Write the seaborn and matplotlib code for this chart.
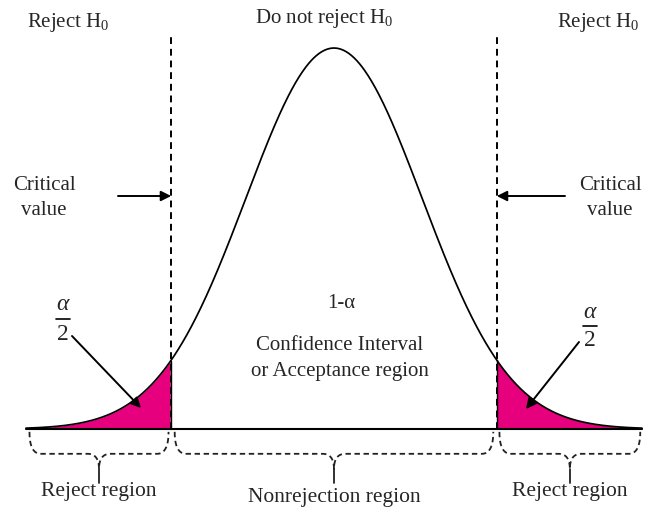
import numpy as np
import pandas as pd
import matplotlib
matplotlib.use("Agg")
import matplotlib.pyplot as plt
import seaborn as sns

# ---- data ----
mu = 0.0
sigma = 1.0
z_limits = [-3.5, 3.5]          # extent of the drawn curve
z_crit = 1.85                   # critical value (two-tailed)
top_labels = ["Reject H$_0$", "Do not reject H$_0$", "Reject H$_0$"]
region_labels = ["Reject region", "Nonrejection region", "Reject region"]
center_labels = ["1-\u03b1", "Confidence Interval", "or Acceptance region"]
crit_label = ["Critical", "value"]

z = np.linspace(z_limits[0], z_limits[1], 701)
pdf = np.exp(-0.5 * ((z - mu) / sigma) ** 2) / (sigma * np.sqrt(2 * np.pi))
df = pd.DataFrame({"z": z, "pdf": pdf})

# ---- style ----
sns.set_theme(style="white")
plt.rcParams["font.family"] = ["Liberation Serif", "DejaVu Serif"]
plt.rcParams["mathtext.fontset"] = "custom"
plt.rcParams["mathtext.rm"] = "Liberation Serif"
plt.rcParams["mathtext.it"] = "Liberation Serif:italic"

W, H = 645, 510
fig = plt.figure(figsize=(W / 100, H / 100), dpi=100)
ax = fig.add_axes([0, 0, 1, 1])
ax.set_xlim(-3.795, 3.534)
ax.set_ylim(-0.0838, 0.4503)
ax.axis("off")

def fx(px):
    return px / W

def fy(py):
    return 1 - py / H

# curve
sns.lineplot(data=df, x="z", y="pdf", ax=ax, color="black", lw=1.25)
ax.plot(z_limits, [0, 0], color="black", lw=1.5)

# tails
pink = "#E6007E"
left = df[df.z <= -z_crit]
right = df[df.z >= z_crit]
ax.fill_between(left.z, 0, left.pdf, color=pink, lw=0)
ax.fill_between(right.z, 0, right.pdf, color=pink, lw=0)
ax.plot([-z_crit, -z_crit], [0, left.pdf.iloc[-1]], color="black", lw=1.0)
ax.plot([z_crit, z_crit], [0, right.pdf.iloc[0]], color="black", lw=1.0)

# critical dashed lines
for c in (-z_crit, z_crit):
    ax.plot([c, c], [0, 0.4145], color="black", lw=1.4, ls=(0, (3.5, 2.5)))

# braces
def bez(p0, p1, p2, n=20):
    t = np.linspace(0, 1, n)[:, None]
    return (1 - t) ** 2 * np.array(p0) + 2 * (1 - t) * t * np.array(p1) + t ** 2 * np.array(p2)

def brace(a, b, y0=-0.003, yh=-0.026, yc=-0.042, ys=-0.057, w=0.13):
    m = (a + b) / 2
    seg1 = bez((a, y0), (a, yh), (a + w, yh))
    seg2 = bez((m - w, yh), (m, yh), (m, yc))
    seg3 = bez((m, yc), (m, yh), (m + w, yh))
    seg4 = bez((b - w, yh), (b, yh), (b, y0))
    pts = np.vstack([seg1, seg2, seg3, seg4])
    ax.plot(pts[:, 0], pts[:, 1], color="#222222", lw=1.3, ls=(0, (3, 2)))
    ax.plot([m, m], [yc, ys], color="#222222", lw=1.3)
    return m

bounds = [(z_limits[0] + 0.04, -z_crit - 0.03),
          (-z_crit + 0.04, z_crit - 0.04),
          (z_crit + 0.03, z_limits[1] - 0.02)]
text_y = [-0.064, -0.071, -0.064]
for (a, b), lab, ty in zip(bounds, region_labels, text_y):
    m = brace(a, b)
    ax.text(m, ty, lab, ha="center", va="center", fontsize=15.5)

# top labels
fs = 15
fig.text(fx(68), fy(22), top_labels[0], ha="center", va="center", fontsize=fs)
fig.text(fx(324), fy(18), top_labels[1], ha="center", va="center", fontsize=fs)
fig.text(fx(598), fy(22), top_labels[2], ha="center", va="center", fontsize=fs)

# critical value labels
fig.text(fx(44), fy(186), crit_label[0], ha="center", va="center", fontsize=fs)
fig.text(fx(44), fy(211), crit_label[1], ha="center", va="center", fontsize=fs)
fig.text(fx(610), fy(186), crit_label[0], ha="center", va="center", fontsize=fs)
fig.text(fx(610), fy(211), crit_label[1], ha="center", va="center", fontsize=fs)

y_arrow = (430 - 197) / 955
ap = dict(arrowstyle="-|>", color="black", lw=1.4, mutation_scale=15, shrinkA=0, shrinkB=0)
ax.annotate("", xy=(-z_crit, y_arrow), xytext=(fx(118), fy(197)),
            textcoords="figure fraction", arrowprops=ap)
ax.annotate("", xy=(z_crit, y_arrow), xytext=(fx(565), fy(197)),
            textcoords="figure fraction", arrowprops=ap)

# alpha/2 labels (drawn as stacked fraction)
def frac(cx, y_top, y_bar, y_bot):
    fig.text(fx(cx), fy(y_top), r"$\alpha$", ha="center", va="center", fontsize=17)
    fig.add_artist(plt.Line2D([fx(cx - 7), fx(cx + 7)], [fy(y_bar), fy(y_bar)],
                              transform=fig.transFigure, color="black", lw=1.2))
    fig.text(fx(cx), fy(y_bot), "2", ha="center", va="center", fontsize=17)

frac(63, 305, 320, 334)
frac(590, 312, 327, 341)
ax.annotate("", xy=(fx(141), fy(409)), xycoords="figure fraction",
            xytext=(fx(72), fy(337)), textcoords="figure fraction", arrowprops=ap)
ax.annotate("", xy=(fx(526), fy(410)), xycoords="figure fraction",
            xytext=(fx(579), fy(343)), textcoords="figure fraction", arrowprops=ap)

# center labels
fig.text(fx(341), fy(304), center_labels[0], ha="center", va="center", fontsize=fs)
fig.text(fx(340), fy(345), center_labels[1], ha="center", va="center", fontsize=fs)
fig.text(fx(340), fy(372), center_labels[2], ha="center", va="center", fontsize=fs)

fig.savefig("out.png", dpi=100)
